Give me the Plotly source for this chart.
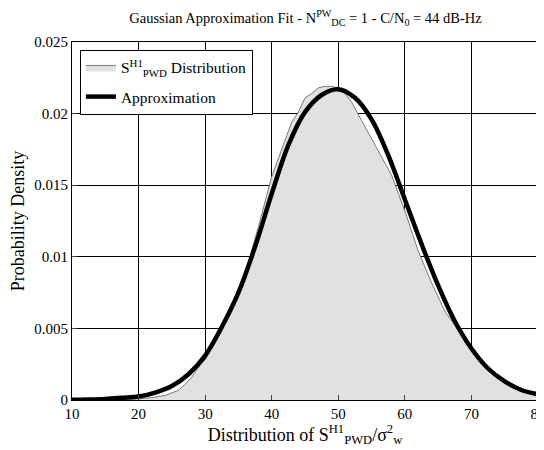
import plotly.graph_objects as go

# values
x_dist = [10, 12, 14, 16, 18, 20, 22, 24, 26, 27, 28, 29, 30, 32, 34, 36, 38, 40, 42, 43,
          44, 45, 46, 47, 48, 49, 50, 51, 52, 54, 56, 58, 60, 62, 64, 66, 68, 70, 72, 74, 76, 78, 80]
y_dist = [0.0, 0.0, 0.00001, 0.00002, 0.00004, 0.00008, 0.00017, 0.00032, 0.00068, 0.0011, 0.0016,
          0.0023, 0.0028, 0.0046, 0.0064, 0.0088, 0.0121, 0.0156, 0.0181, 0.0194,
          0.0201, 0.0211, 0.0214, 0.0218, 0.0219, 0.0219, 0.0218, 0.0214, 0.0208, 0.0191, 0.0175, 0.0157,
          0.0132, 0.0104, 0.0082, 0.0062, 0.0049, 0.0037, 0.0026, 0.0017, 0.0011, 0.0007, 0.0004]

x_fit = [10, 12.5, 15, 17.5, 20, 22.5, 25, 27.5, 30, 32.5, 35, 37.5, 40, 42.5, 45, 47.5,
         50, 52.5, 55, 57.5, 60, 62.5, 65, 67.5, 70, 72.5, 75, 77.5, 80]
y_fit = [0.00001, 0.00003, 0.00007, 0.00015, 0.00024, 0.00052, 0.00098, 0.0018, 0.0031, 0.0051,
         0.0075, 0.0107, 0.0144, 0.0178, 0.0201, 0.0213, 0.0217, 0.0211, 0.0196, 0.0171,
         0.0140, 0.0109, 0.0080, 0.0055, 0.0036, 0.0022, 0.0013, 0.0007, 0.0004]

serif = "Liberation Serif"

fig = go.Figure()
fig.add_trace(go.Scatter(x=x_dist, y=y_dist, mode='lines', fill='tozeroy',
                         fillcolor='#e1e1e3', line=dict(color='#7a7a7a', width=1),
                         name='S<sup>H1</sup><sub>PWD</sub> Distribution', legendgroup='dist'))
fig.add_trace(go.Scatter(x=x_fit, y=y_fit, mode='lines', line_shape='spline',
                         line=dict(color='black', width=4.5),
                         name='Approximation', legendgroup='fit'))

# page body has an 8px margin, so the figure is a bit smaller than the window
fig.update_layout(
    width=536, height=442,
    margin=dict(l=64, r=6, t=34, b=50, autoexpand=False),
    plot_bgcolor='white', paper_bgcolor='white',
    font=dict(family=serif, size=15, color='black'),
    title=dict(text='Gaussian Approximation Fit - N<sup>PW</sup><sub>DC</sub> = 1 - C/N<sub>0</sub> = 44 dB-Hz',
               x=0.555, xanchor='center', y=0.978, yanchor='middle', font=dict(size=14.5)),
    legend=dict(x=0.017, y=0.978, xanchor='left', yanchor='top',
                bgcolor='white', bordercolor='black', borderwidth=1,
                font=dict(size=15.5), tracegroupgap=6),
)

fig.update_xaxes(range=[10, 80], dtick=10, showgrid=True, gridcolor='black', gridwidth=1,
                 showline=True, linecolor='black', linewidth=1, mirror=True,
                 ticks='inside', ticklen=5, zeroline=False, automargin=False,
                 ticklabeloverflow='allow',
                 title=dict(text='Distribution of S<sup>H1</sup><sub>PWD</sub>/σ<sup>2</sup><sub>w</sub>',
                            standoff=2))
fig.update_yaxes(range=[0, 0.025], dtick=0.005, showgrid=True, gridcolor='black', gridwidth=1,
                 showline=True, linecolor='black', linewidth=1, mirror=True,
                 ticks='inside', ticklen=5, zeroline=False, automargin=False,
                 title=dict(text='Probability Density', standoff=4))

fig.write_html("out.html")
